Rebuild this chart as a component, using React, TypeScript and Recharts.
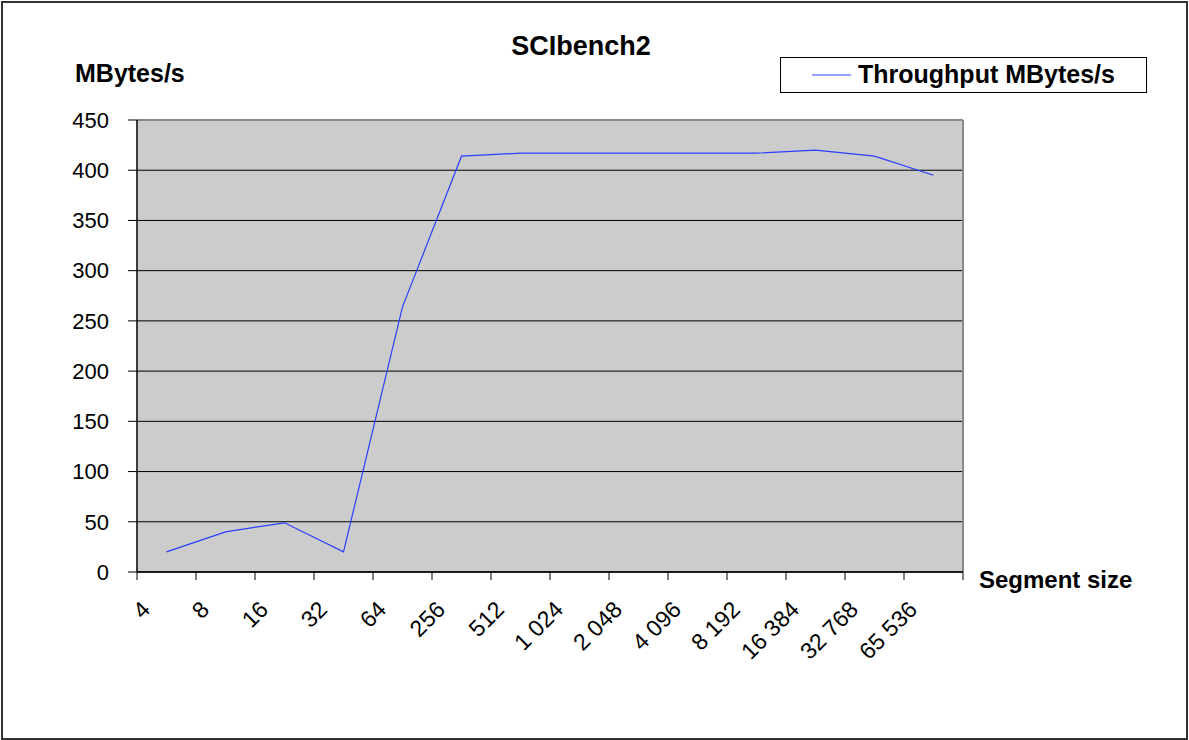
import React from 'react';
import { LineChart, Line, XAxis, YAxis, CartesianGrid } from 'recharts';

const sizes = ['4', '8', '16', '32', '64', '256', '512', '1 024', '2 048', '4 096', '8 192', '16 384', '32 768', '65 536'];
const throughput = [20, 40, 49, 20, 264, 414, 417, 417, 417, 417, 417, 420, 414, 395];
const yTicks = [0, 50, 100, 150, 200, 250, 300, 350, 400, 450];
const seriesName = 'Throughput MBytes/s';

const data = sizes.map((s, i) => ({ size: s, value: throughput[i] }));

const W = 1189;
const H = 740;
const M = { top: 120, right: 226, bottom: 0, left: 0 };
const Y_W = 137;
const X_H = 168;
const BAND = (W - M.right - Y_W) / sizes.length;
const FONT = '"Liberation Sans", Arial, sans-serif';
const LINE_COLOR = '#2a3fff';

const XTick = (props: any) => {
  const { x, y, payload, index } = props;
  const half = BAND / 2;
  const ax = x - 15;
  const ay = y + 39;
  return (
    <g>
      <line x1={x - half} x2={x - half} y1={y} y2={y + 8} stroke="#000" strokeWidth={1} />
      {index === sizes.length - 1 && (
        <line x1={x + half} x2={x + half} y1={y} y2={y + 8} stroke="#000" strokeWidth={1} />
      )}
      <text
        x={ax}
        y={ay}
        transform={`rotate(-45 ${ax} ${ay})`}
        textAnchor="end"
        fontSize={23}
        fontFamily={FONT}
        fill="#000"
      >
        {payload.value}
      </text>
    </g>
  );
};

export default function App() {
  return (
    <div style={{ position: 'absolute', left: 0, top: 0, width: W, height: H, background: '#fff' }}>
      <LineChart width={W} height={H} data={data} margin={M}>
        <CartesianGrid vertical={false} stroke="#000" fill="#cccccc" fillOpacity={1} />
        <CartesianGrid
          vertical={true}
          horizontal={true}
          stroke="#8a8a8a"
          strokeWidth={2}
          verticalCoordinatesGenerator={({ offset }: any) => [offset.left + offset.width]}
          horizontalCoordinatesGenerator={({ offset }: any) => [offset.top]}
        />
        <XAxis
          dataKey="size"
          scale="band"
          interval={0}
          height={X_H}
          tickLine={false}
          tickSize={0}
          tickMargin={0}
          axisLine={{ stroke: '#000', strokeWidth: 1.5 }}
          tick={<XTick />}
        />
        <YAxis
          width={Y_W}
          domain={[0, 450]}
          ticks={yTicks}
          interval={0}
          tickSize={9}
          tickMargin={19}
          axisLine={{ stroke: '#000', strokeWidth: 1.5 }}
          tickLine={{ stroke: '#000' }}
          tick={{ fontSize: 22, fill: '#000', fontFamily: FONT }}
        />
        <Line
          type="linear"
          dataKey="value"
          name={seriesName}
          stroke={LINE_COLOR}
          strokeWidth={1.2}
          dot={false}
          activeDot={false}
          isAnimationActive={false}
        />
      </LineChart>
      <svg
        width={W}
        height={H}
        style={{ position: 'absolute', left: 0, top: 0, pointerEvents: 'none' }}
      >
        <rect x={2} y={2} width={W - 4} height={H - 3} fill="none" stroke="#333" strokeWidth={2} />
        <text x={581} y={55} textAnchor="middle" fontSize={27} fontWeight="bold" fontFamily={FONT} fill="#000">
          SCIbench2
        </text>
        <text x={75} y={82} fontSize={25} fontWeight="bold" fontFamily={FONT} fill="#000">
          MBytes/s
        </text>
        <text x={979} y={588} fontSize={24} fontWeight="bold" fontFamily={FONT} fill="#000">
          Segment size
        </text>
        <g transform="translate(780 57)">
          <rect x={0.5} y={0.5} width={366} height={35} fill="#fff" stroke="#000" strokeWidth={1} />
          <line x1={32} x2={71} y1={18} y2={18} stroke={LINE_COLOR} strokeWidth={1} />
          <text x={78} y={26} fontSize={25} fontWeight="bold" fontFamily={FONT} fill="#000">
            {seriesName}
          </text>
        </g>
      </svg>
    </div>
  );
}
